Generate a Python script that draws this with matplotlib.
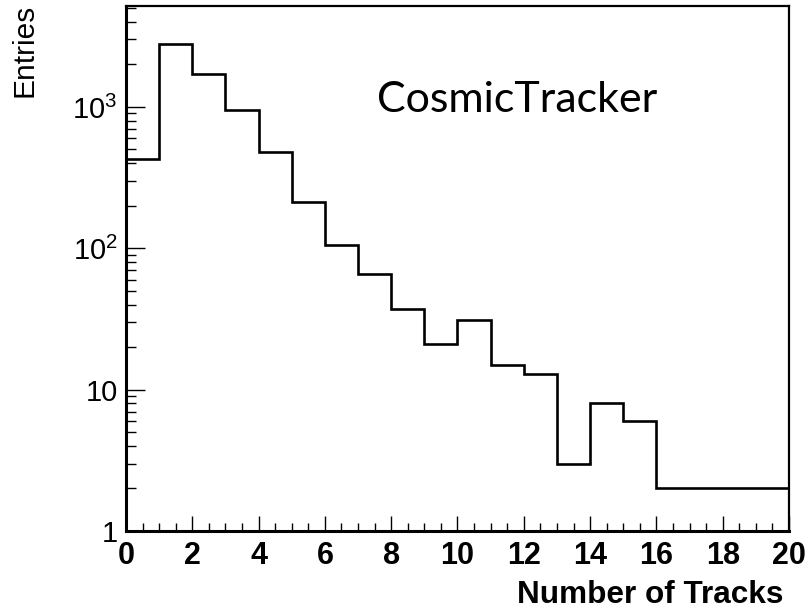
import numpy as np
import matplotlib.pyplot as plt
from matplotlib.ticker import FixedLocator, FixedFormatter, MultipleLocator, LogLocator, NullFormatter

plt.rcParams["font.family"] = ["Liberation Sans", "DejaVu Sans"]
plt.rcParams["mathtext.fontset"] = "custom"
plt.rcParams["mathtext.rm"] = "Liberation Sans"
plt.rcParams["mathtext.it"] = "Liberation Sans"

# Track multiplicity per event, one entry per bin [i, i+1)
bin_edges = np.arange(0, 21, 1)
counts = [430, 2770, 1710, 950, 480, 214, 106, 66, 37, 21,
          31, 15, 13, 3, 8, 6, 2, 2, 2, 2]
y_ticks = [1, 10, 100, 1000]
y_tick_labels = ["1", "10", "$10^{2}$", "$10^{3}$"]

fig = plt.figure(figsize=(8.06, 6.10), dpi=100)
ax = fig.add_axes([0.1563, 0.1295, 0.8226, 0.8607])

# histogram outline: drop from the first bin to zero isn't drawn on a log axis
ax.stairs(counts, bin_edges, color="black", linewidth=1.9, baseline=None)

ax.set_yscale("log")
ax.set_xlim(0, 20)
ax.set_ylim(1, 5176)

ax.xaxis.set_major_locator(MultipleLocator(2))
ax.xaxis.set_minor_locator(MultipleLocator(0.5))
ax.yaxis.set_major_locator(FixedLocator(y_ticks))
ax.yaxis.set_major_formatter(FixedFormatter(y_tick_labels))
ax.yaxis.set_minor_locator(LogLocator(base=10, subs=np.arange(2, 10)))
ax.yaxis.set_minor_formatter(NullFormatter())

ax.tick_params(axis="x", which="major", direction="in", length=10.5, width=1.0, pad=7)
ax.tick_params(axis="x", which="minor", direction="in", length=5.5, width=1.0)
ax.tick_params(axis="y", which="major", direction="in", length=14, width=1.0, pad=6)
ax.tick_params(axis="y", which="minor", direction="in", length=7, width=1.0)
ax.tick_params(top=False, right=False, which="both")

for lbl in ax.get_xticklabels():
    lbl.set_fontweight("bold")
    lbl.set_fontsize(22)
for lbl in ax.get_yticklabels():
    lbl.set_fontsize(21)

ax.spines["left"].set_linewidth(2.2)
ax.spines["bottom"].set_linewidth(2.2)
ax.spines["top"].set_linewidth(1.6)
ax.spines["right"].set_linewidth(1.6)

fig.text(0.0298, 0.994, "Entries", rotation=90, ha="center", va="top", fontsize=21.5)
fig.text(0.9715, 0.0115, "Number of Tracks", ha="right", va="baseline",
         fontsize=22.7, fontweight="bold")
fig.text(0.4677, 0.8164, "CosmicTracker", ha="left", va="baseline",
         fontsize=31, family=["Lato", "DejaVu Sans"])

fig.savefig("out.png", dpi=100)
